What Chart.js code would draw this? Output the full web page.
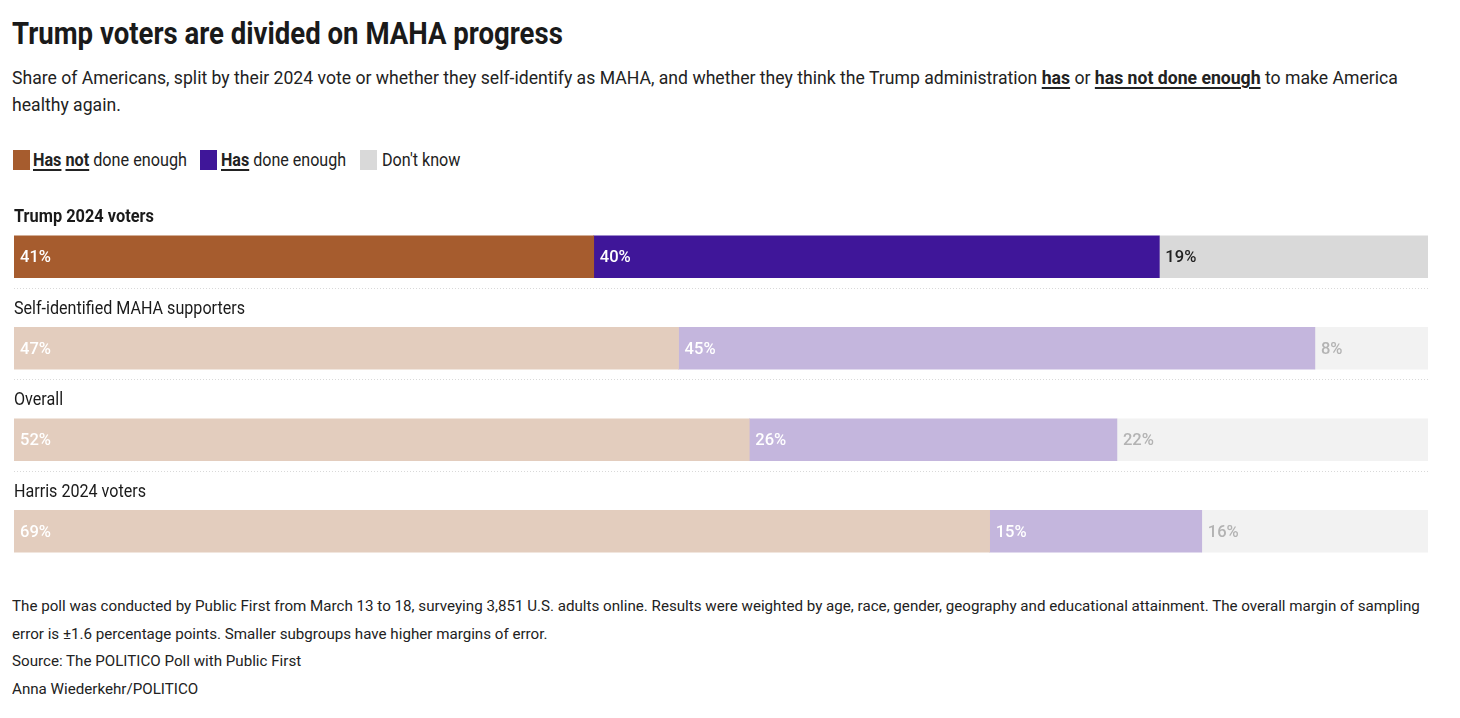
<!DOCTYPE html>
<html>
<head>
<meta charset="utf-8">
<script src="https://cdn.jsdelivr.net/npm/chart.js@4"></script>
<style>
body{margin:0;background:#fff;font-family:Roboto,"Noto Sans",sans-serif;color:#1a1a1a;width:1460px;height:718px;position:relative;overflow:hidden}
.fit{position:absolute;white-space:nowrap;transform-origin:0 0}
#title{left:12px;top:13px;font-size:32px;font-weight:bold;line-height:40px}
#sub{left:12px;top:65px;font-size:18.5px;line-height:27px;color:#222}
#sub b,.leg b{text-decoration:underline;text-underline-offset:3px;text-decoration-thickness:1.5px}
.sw{position:absolute;top:150px;width:17px;height:20px}
.leg{top:148px;font-size:18px;line-height:24px;color:#222}
#wrap{position:absolute;left:0;top:200px;width:1460px;height:380px}
#foot{left:12px;top:593px;font-size:15.5px;line-height:27.7px;color:#222}
</style>
</head>
<body>
<div id="title" class="fit" data-w="551">Trump voters are divided on MAHA progress</div>
<div id="sub" class="fit" data-w="1386">Share of Americans, split by their 2024 vote or whether they self-identify as MAHA, and whether they think the Trump administration <b>has</b> or <b>has not done enough</b> to make America<br>healthy again.</div>
<div class="sw" style="left:13px;background:#a65c2e"></div>
<div class="leg fit" style="left:33px" data-w="154"><b>Has</b> <b>not</b> done enough</div>
<div class="sw" style="left:200px;background:#3f1699"></div>
<div class="leg fit" style="left:221px" data-w="125"><b>Has</b> done enough</div>
<div class="sw" style="left:360px;background:#d9d9d9"></div>
<div class="leg fit" style="left:382px" data-w="78">Don't know</div>
<div id="wrap"><canvas id="grafico"></canvas></div>
<div id="foot" class="fit" data-w="1408">The poll was conducted by Public First from March 13 to 18, surveying 3,851 U.S. adults online. Results were weighted by age, race, gender, geography and educational attainment. The overall margin of sampling<br>error is ±1.6 percentage points. Smaller subgroups have higher margins of error.<br>Source: The POLITICO Poll with Public First<br>Anna Wiederkehr/POLITICO</div>
<script>
let grupos = ["Trump 2024 voters","Self-identified MAHA supporters","Overall","Harris 2024 voters"]

let naoFez = [41,47,52,69]
let fez = [40,45,26,15]
let naoSabe = [19,8,22,16]

let nomesSeries = ["Has not done enough","Has done enough","Don't know"]

// first row is highlighted, the rest are faded
let cores = [
["#a65c2e","#e3cdbe","#e3cdbe","#e3cdbe"],
["#3f1699","#c4b6dd","#c4b6dd","#c4b6dd"],
["#d9d9d9","#f2f2f2","#f2f2f2","#f2f2f2"]
]
let coresTexto = [
["#ffffff","#ffffff","#ffffff","#ffffff"],
["#ffffff","#ffffff","#ffffff","#ffffff"],
["#222222","#b3b3b3","#b3b3b3","#b3b3b3"]
]

let fonte = 'Roboto,"Noto Sans",sans-serif'

// squeeze the text sideways so it looks like the condensed original font
document.querySelectorAll(".fit").forEach(el=>{
let alvo = parseFloat(el.dataset.w)
el.style.transform = "scaleX(" + (alvo / el.scrollWidth) + ")"
})

function textoEstreito(ctx, texto, x, y, fator){
ctx.save()
ctx.translate(x, y)
ctx.scale(fator, 1)
ctx.fillText(texto, 0, 0)
ctx.restore()
}

let rotulos = {
id:"rotulos",
afterDatasetsDraw(chart){
let ctx = chart.ctx
ctx.save()
ctx.textBaseline = "middle"
ctx.textAlign = "left"

ctx.font = "500 17px " + fonte
let fatorPct = 31 / ctx.measureText("41%").width
ctx.font = "18px " + fonte
let fatorNome = 231 / ctx.measureText(grupos[1]).width
ctx.font = "bold 18px " + fonte
let fatorNegrito = 140 / ctx.measureText(grupos[0]).width

let metas = chart.data.datasets.map((d,i)=>chart.getDatasetMeta(i))
// values inside bars
metas.forEach((meta,di)=>{
meta.data.forEach((bar,i)=>{
let esq = Math.min(bar.x,bar.base)
ctx.font = "500 17px " + fonte
ctx.fillStyle = coresTexto[di][i]
textoEstreito(ctx, chart.data.datasets[di].data[i] + "%", esq + 6, bar.y + 1, fatorPct)
})
})
// group labels and dotted separators
let area = chart.chartArea
metas[0].data.forEach((bar,i)=>{
let topo = bar.y - bar.height/2
let baixo = bar.y + bar.height/2
ctx.font = (i === 0 ? "bold " : "") + "18px " + fonte
ctx.fillStyle = "#1a1a1a"
textoEstreito(ctx, grupos[i], area.left, topo - 18, i === 0 ? fatorNegrito : fatorNome)
if(i < grupos.length - 1){
ctx.strokeStyle = "#d9d9d9"
ctx.lineWidth = 1
ctx.setLineDash([1,2])
ctx.beginPath()
ctx.moveTo(area.left, Math.round(baixo + 10) + 0.5)
ctx.lineTo(area.right, Math.round(baixo + 10) + 0.5)
ctx.stroke()
ctx.setLineDash([])
}
})
ctx.restore()
}
}

new Chart(document.getElementById("grafico"),{
type:"bar",
data:{
labels:grupos,
datasets:[naoFez,fez,naoSabe].map((serie,i)=>({
label:nomesSeries[i],
data:serie,
backgroundColor:cores[i],
borderWidth:0,
barThickness:42
}))
},
options:{
indexAxis:"y",
responsive:true,
maintainAspectRatio:false,
animation:false,
layout:{padding:{top:11,bottom:3,left:14,right:32}},
plugins:{legend:{display:false},tooltip:{enabled:false}},
scales:{
x:{stacked:true,min:0,max:100,display:false},
y:{stacked:true,display:false}
}
},
plugins:[rotulos]
})
</script>
</body>
</html>
